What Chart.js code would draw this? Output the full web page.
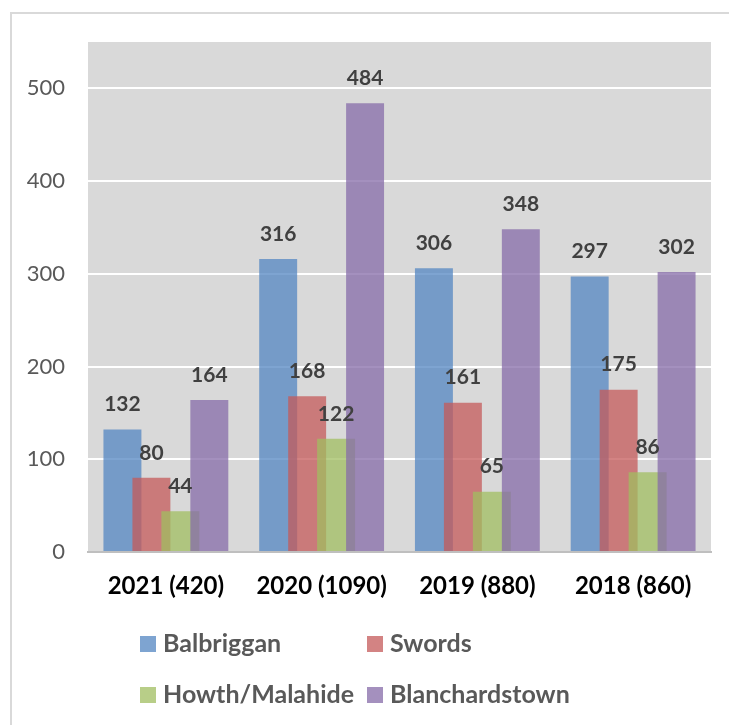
<!DOCTYPE html>
<html>
<head>
<meta charset="utf-8">
<script src="https://cdn.jsdelivr.net/npm/chart.js@4"></script>
<style>
  html, body { margin: 0; padding: 0; background: #fff; }
  #wrap { position: relative; width: 729px; height: 725px; overflow: hidden; }
  #frame { position: absolute; left: 10px; top: 12px; width: 760px; height: 760px; border: 2px solid #d9d9d9; box-sizing: border-box; }
  #chart { position: absolute; left: 0; top: 0; }
</style>
</head>
<body>
<div id="wrap">
  <div id="frame"></div>
  <canvas id="chart" width="729" height="725"></canvas>
</div>
<script>
const years = ["2021 (420)", "2020 (1090)", "2019 (880)", "2018 (860)"];
const seriesNames = ["Balbriggan", "Swords", "Howth/Malahide", "Blanchardstown"];
const balbriggan = [132, 316, 306, 297];
const swords = [80, 168, 161, 175];
const howthMalahide = [44, 122, 65, 86];
const blanchardstown = [164, 484, 348, 302];
const yTicks = [0, 100, 200, 300, 400, 500];
const colors = ["rgba(83,133,193,0.75)", "rgba(196,89,89,0.75)", "rgba(160,189,96,0.75)", "rgba(133,107,168,0.75)"];

const FONT = "Lato, 'Open Sans', sans-serif";

// grey plot background like the Excel original
const plotBg = {
  id: "plotBg",
  beforeDraw(chart) {
    const { ctx, chartArea: a } = chart;
    ctx.save();
    ctx.fillStyle = "#d9d9d9";
    ctx.fillRect(a.left, a.top, a.right - a.left, a.bottom - a.top);
    ctx.restore();
  },
};

// draw datasets first-to-last so later series sit on top of earlier ones
const forwardOrder = {
  id: "forwardOrder",
  beforeDatasetsDraw(chart) {
    chart.data.datasets.forEach((ds, i) => {
      const meta = chart.getDatasetMeta(i);
      if (meta.visible) meta.controller.draw();
    });
    return false;
  },
};

const valueLabels = {
  id: "valueLabels",
  afterDraw(chart) {
    const ctx = chart.ctx;
    ctx.save();
    ctx.font = `bold 21px ${FONT}`;
    ctx.fillStyle = "#404040";
    ctx.textAlign = "center";
    ctx.textBaseline = "middle";
    chart.data.datasets.forEach((ds, i) => {
      chart.getDatasetMeta(i).data.forEach((bar, j) => {
        ctx.fillText(String(ds.data[j]), bar.x, bar.y - 25);
      });
    });
    ctx.restore();
  },
};

const gridLegend = {
  id: "gridLegend",
  afterDraw(chart) {
    const ctx = chart.ctx;
    const cols = [140, 367];
    const rows = [644, 695];
    ctx.save();
    ctx.font = `bold 25px ${FONT}`;
    ctx.textBaseline = "middle";
    ctx.textAlign = "left";
    chart.data.datasets.forEach((ds, i) => {
      const x = cols[i % 2];
      const y = rows[Math.floor(i / 2)];
      ctx.fillStyle = ds.backgroundColor;
      ctx.fillRect(x, y - 8, 16, 16);
      ctx.fillStyle = "#595959";
      ctx.fillText(ds.label, x + 23, y);
    });
    ctx.restore();
  },
};

const seriesData = [balbriggan, swords, howthMalahide, blanchardstown];

new Chart(document.getElementById("chart"), {
  type: "bar",
  data: {
    labels: years,
    datasets: seriesNames.map((name, i) => ({
      label: name,
      data: seriesData[i],
      backgroundColor: colors[i],
      borderWidth: 0,
      categoryPercentage: 0.744,
      barPercentage: 1.31,
    })),
  },
  options: {
    responsive: false,
    animation: false,
    layout: { padding: { top: 42, right: 18, bottom: 113, left: 0 } },
    plugins: {
      legend: { display: false },
      tooltip: { enabled: false },
    },
    scales: {
      x: {
        grid: { display: false, drawTicks: false },
        border: { color: "#bfbfbf", width: 2 },
        ticks: { color: "#000", font: { family: FONT, size: 24, weight: "bold" }, padding: 20 },
        afterFit(scale) { scale.height = 60; },
      },
      y: {
        min: 0,
        max: 550,
        afterBuildTicks(scale) { scale.ticks = yTicks.map((v) => ({ value: v })); },
        grid: {
          color: (c) => (c.tick && c.tick.value === 0 ? "rgba(0,0,0,0)" : "#ffffff"),
          lineWidth: 2,
          drawTicks: false,
        },
        border: { display: false },
        ticks: { color: "#595959", font: { family: FONT, size: 22 }, padding: 23 },
        afterFit(scale) { scale.width = 88; },
      },
    },
  },
  plugins: [plotBg, forwardOrder, valueLabels, gridLegend],
});
</script>
</body>
</html>
